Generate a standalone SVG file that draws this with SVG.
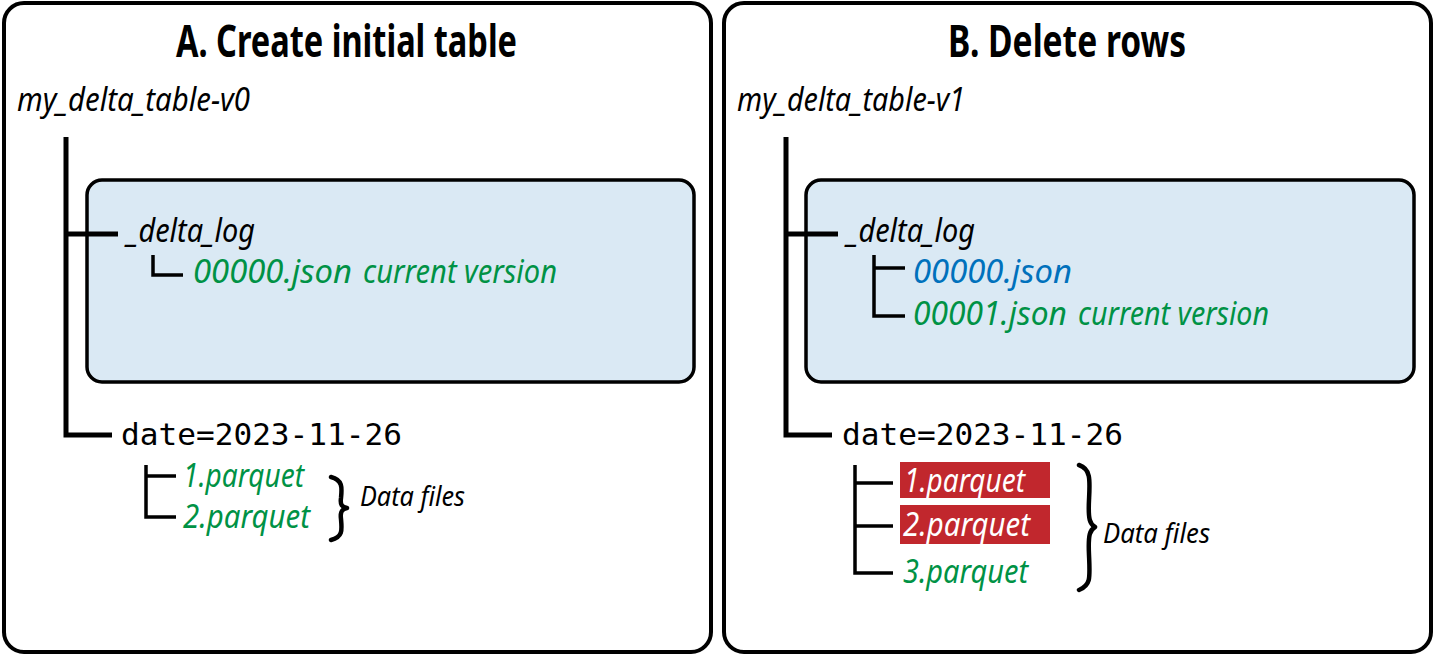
<svg xmlns="http://www.w3.org/2000/svg" width="1436" height="656" viewBox="0 0 1436 656">
<style>
.panel{fill:#fff;stroke:#000;stroke-width:4}
.log{fill:#dae9f4;stroke:#000;stroke-width:3.5}
.title{font-family:"Noto Sans","Liberation Sans",sans-serif;font-weight:700;font-size:44px;fill:#000}
.it{font-family:"Noto Sans","Liberation Sans",sans-serif;font-style:italic;font-size:32px;fill:#000}
.sm{font-size:27px}
.mono{font-family:"DejaVu Sans Mono","Liberation Mono",monospace;font-size:30px;fill:#000}
.g{fill:#009245}
.b{fill:#0071bc}
.w{fill:#fff}
.tree{fill:none;stroke:#000;stroke-width:5}
.sub{fill:none;stroke:#000;stroke-width:3.5}
.brace{fill:none;stroke:#000;stroke-width:4.5;stroke-linecap:round;stroke-linejoin:round}
.del{fill:#c1272d}
</style>
<g id="panelA">
<rect class="panel" x="4" y="3" width="707" height="649" rx="20"/>
<text class="title" x="176" y="57" textLength="341" lengthAdjust="spacingAndGlyphs">A. Create initial table</text>
</g>
<g id="panelB">
<rect class="panel" x="724" y="3" width="707" height="649" rx="20"/>
<text class="title" x="948" y="57" textLength="238" lengthAdjust="spacingAndGlyphs">B. Delete rows</text>
</g>
<g id="rootA"><text class="it" x="17" y="111" textLength="233" lengthAdjust="spacingAndGlyphs">my_delta_table-v0</text></g>
<g id="logA">
<rect class="log" x="87" y="180" width="607" height="202" rx="15"/>
<text class="it" x="127" y="242" textLength="128" lengthAdjust="spacingAndGlyphs">_delta_log</text>
<text class="it g" x="193" y="283" textLength="159" lengthAdjust="spacingAndGlyphs">00000.json</text>
<text class="it g" x="363" y="283" textLength="194" lengthAdjust="spacingAndGlyphs">current version</text>
</g>
<g id="dateA">
<text class="mono" x="121" y="445" textLength="281" lengthAdjust="spacingAndGlyphs">date=2023-11-26</text>
<text class="it g" x="183" y="487" textLength="121" lengthAdjust="spacingAndGlyphs">1.parquet</text>
<text class="it g" x="183" y="528" textLength="127" lengthAdjust="spacingAndGlyphs">2.parquet</text>
<text class="it sm" x="360" y="506" textLength="105" lengthAdjust="spacingAndGlyphs">Data files</text>
</g>
<g id="rootB"><text class="it" x="737" y="111" textLength="228" lengthAdjust="spacingAndGlyphs">my_delta_table-v1</text></g>
<g id="logB">
<rect class="log" x="806" y="180" width="608" height="202" rx="15"/>
<text class="it" x="847" y="242" textLength="128" lengthAdjust="spacingAndGlyphs">_delta_log</text>
<text class="it b" x="913" y="283" textLength="159" lengthAdjust="spacingAndGlyphs">00000.json</text>
<text class="it g" x="913" y="325" textLength="154" lengthAdjust="spacingAndGlyphs">00001.json</text>
<text class="it g" x="1078" y="325" textLength="191" lengthAdjust="spacingAndGlyphs">current version</text>
</g>
<g id="dateB">
<text class="mono" x="842" y="445" textLength="281" lengthAdjust="spacingAndGlyphs">date=2023-11-26</text>
<rect class="del" x="900" y="462" width="150" height="36"/>
<rect class="del" x="900" y="505" width="150" height="39"/>
<text class="it w" x="904" y="492" textLength="121" lengthAdjust="spacingAndGlyphs">1.parquet</text>
<text class="it w" x="903" y="536" textLength="127" lengthAdjust="spacingAndGlyphs">2.parquet</text>
<text class="it g" x="903" y="583" textLength="125" lengthAdjust="spacingAndGlyphs">3.parquet</text>
<text class="it sm" x="1103" y="543" textLength="107" lengthAdjust="spacingAndGlyphs">Data files</text>
</g>
<g id="connectors">
<path class="tree" d="M66 137 V435 H112 M66 234 H118"/>
<path class="sub" d="M153 255 V275 H183"/>
<path class="sub" d="M146 465 V517 H176 M146 476 H176"/>
<path class="brace" d="M331 477 C343 480 342 488 341 498 C340 505 342 507 347 508 C342 509 340 512 341 519 C342 530 343 537 331 540"/>
<path class="tree" d="M786 137 V435 H832 M786 234 H838"/>
<path class="sub" d="M874 255 V316 H905 M874 268 H905"/>
<path class="sub" d="M855 465 V573 H893 M855 483 H893 M855 526 H893"/>
<path class="brace" d="M1079 465 C1091 469 1090 480 1089 500 C1088 520 1090 524 1095 527 C1090 530 1088 534 1089 555 C1090 578 1091 585 1079 590"/>
</g>
</svg>
